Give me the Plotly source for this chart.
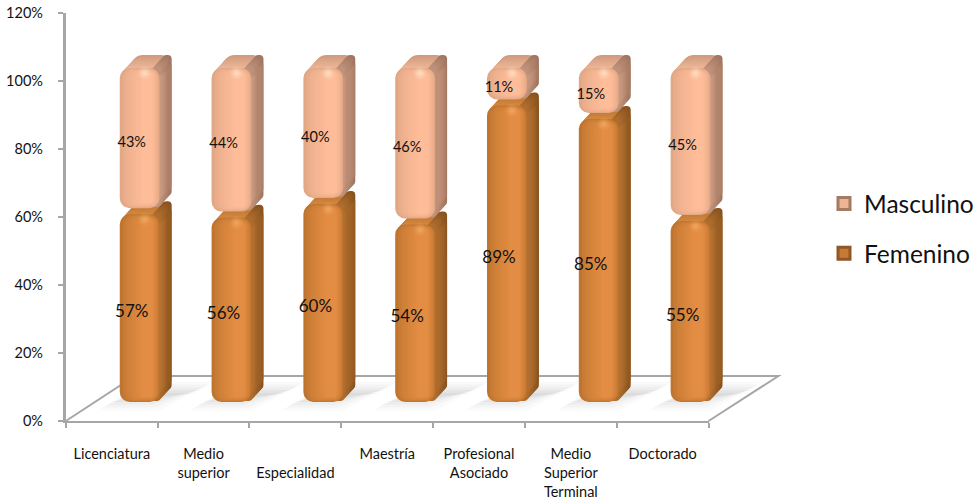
import plotly.graph_objects as go

# ---- data ----
categories = ["Licenciatura", "Medio<br>superior", "<br>Especialidad", "Maestría",
              "Profesional<br>Asociado", "Medio<br>Superior<br>Terminal", "Doctorado"]
femenino = [57, 56, 60, 54, 89, 85, 55]
masculino = [43, 44, 40, 46, 11, 15, 45]
y_ticks = [0, 20, 40, 60, 80, 100, 120]
y_tick_labels = ["0%", "20%", "40%", "60%", "80%", "100%", "120%"]

# ---- styling / geometry ----
W, H = 979, 500
FONT = "Lato"
GREY = "#A6A6A6"
DEPTH_STEPS = 13
DEPTH_X, DEPTH_Y = 12, 13
BAR_W = 40 / 92
INSET = 1.8
FRONT_N = 2 + DEPTH_STEPS
HILITE_N = FRONT_N + 1
LABEL_N = FRONT_N + 2

FEM = dict(side=("#87531F", "#AE6C2D"), top=("#B8702E", "#D2873E"),
           front=("#BF7530", "#E38C43"), spot="#F2AE68")
MAS = dict(side=("#A07660", "#C0917A"), top=("#D09B7D", "#EBB597"),
           front=("#E2A886", "#FEBC99"), spot="#FFE6CC")


def mix(a, b, t):
    ca = [int(a[i:i + 2], 16) for i in (1, 3, 5)]
    cb = [int(b[i:i + 2], 16) for i in (1, 3, 5)]
    return "#" + "".join(f"{round(p + (q - p) * t):02X}" for p, q in zip(ca, cb))


fig = go.Figure()


def ax(n):
    return ("x", "y") if n == 1 else (f"x{n}", f"y{n}")


def bar_layer(values, bases, color, axes, left=0.0, right=0.0, inset_v=0.0, radius=10):
    xa, ya = axes
    width = BAR_W - (left + right) / 92
    off = -BAR_W / 2 + left / 92
    lo = [b + inset_v for b in bases]
    heights = [v - INSET - 2 * inset_v for v in values]
    fig.add_trace(go.Bar(x=categories, y=heights, base=lo, width=width, offset=off,
                         marker=dict(color=color, line=dict(width=0), cornerradius=radius),
                         xaxis=xa, yaxis=ya, showlegend=False, hoverinfo="skip"))


def draw_series(values, bases, pal):
    for k in range(DEPTH_STEPS):
        axes = ax(2 + k)
        t = k / (DEPTH_STEPS - 1)
        bar_layer(values, bases, mix(*pal["top"], t), axes, radius=11)
        bar_layer(values, bases, mix(*pal["side"], t), axes, left=31, radius=9)
    front_axes = ax(FRONT_N)
    nest = 8
    for j in range(nest):
        t = j / (nest - 1)
        bar_layer(values, bases, mix(*pal["front"], t ** 0.7), front_axes,
                  left=22 * t, right=7 * t, inset_v=1.4 * t, radius=max(10 - 7 * t, 2))


zeros = [0] * len(femenino)
draw_series(femenino, zeros, FEM)
draw_series(masculino, femenino, MAS)

# legend entries on the base axes
fig.add_trace(go.Bar(x=categories, y=[None] * 7, name="Femenino", legendgroup="f", legendrank=2,
                     marker=dict(color="#C67A34", line=dict(color="#8F5826", width=3)),
                     hoverinfo="skip"))
fig.add_trace(go.Bar(x=categories, y=[None] * 7, name="Masculino", legendgroup="m", legendrank=1,
                     marker=dict(color="#EDB595", line=dict(color="#A67B63", width=3)),
                     hoverinfo="skip"))

# specular spots
tops_f = list(femenino)
tops_m = [f + m for f, m in zip(femenino, masculino)]
HL = ax(HILITE_N)
for tops, spot in ((tops_f, FEM["spot"]), (tops_m, MAS["spot"])):
    for size, op in ((13, 0.18), (9, 0.25), (5, 0.45)):
        fig.add_trace(go.Scatter(x=categories, y=tops, mode="markers",
                                 marker=dict(size=size, color=spot, opacity=op, line=dict(width=0)),
                                 xaxis=HL[0], yaxis=HL[1], showlegend=False, hoverinfo="skip"))

# data labels
LBL = ax(LABEL_N)
fig.add_trace(go.Scatter(x=categories, y=[v / 2 for v in femenino], mode="text",
                         text=[f"{v}%" for v in femenino],
                         textfont=dict(family=FONT, size=17, color="#111111"),
                         xaxis=LBL[0], yaxis=LBL[1], showlegend=False, hoverinfo="skip"))
fig.add_trace(go.Scatter(x=categories, y=[f + m / 2 for f, m in zip(femenino, masculino)], mode="text",
                         text=[f"{v}%" for v in masculino],
                         textfont=dict(family=FONT, size=14.5, color="#111111"),
                         xaxis=LBL[0], yaxis=LBL[1], showlegend=False, hoverinfo="skip"))


def bar_axes(n, dx, dy):
    """Separate axes whose scale is shifted dx right, dy up (pixels) from the front face."""
    x0, x1 = 94 + dx, 738 + dx
    y0 = 402 - dy
    y1 = y0 - 3.4 * 110
    return {
        f"xaxis{n}": dict(domain=[x0 / W, x1 / W], range=[-0.5, 6.5], type="category",
                          categoryorder="array", categoryarray=categories, visible=False,
                          anchor=f"y{n}"),
        f"yaxis{n}": dict(domain=[1 - y0 / H, 1 - y1 / H], range=[0, 110], visible=False,
                          anchor=f"x{n}"),
    }


layout_axes = {}
for k in range(DEPTH_STEPS):
    t = 1 - k / DEPTH_STEPS
    layout_axes.update(bar_axes(2 + k, DEPTH_X * t, DEPTH_Y * t))
layout_axes.update(bar_axes(FRONT_N, 0, 0))
layout_axes.update(bar_axes(HILITE_N, 5, -11))
layout_axes.update(bar_axes(LABEL_N, -8, -8))

# floor + soft shadows
shapes = []
for i in range(len(categories)):
    cx = 140 + 92 * i
    for grow, op in ((12, 0.03), (8, 0.04), (4, 0.05), (0, 0.06), (-4, 0.07)):
        y_low, y_high = 402 + grow * 0.7, 390 - grow * 0.7
        x_a, x_b = cx - 30 - grow, cx + 8 + grow
        x_c, x_d = min(cx + 62 + grow, 764), cx + 22 - grow
        path = (f"M{x_a/W},{1-y_low/H} L{x_b/W},{1-y_low/H} "
                f"L{x_c/W},{1-y_high/H} L{x_d/W},{1-y_high/H} Z")
        shapes.append(dict(type="path", xref="paper", yref="paper", path=path,
                           fillcolor=f"rgba(110,110,110,{op})", line=dict(width=0), layer="below"))
floor = (f"M{66/W},{1-421/H} L{135/W},{1-376/H} L{780/W},{1-376/H} L{710/W},{1-421/H}")
shapes.append(dict(type="path", xref="paper", yref="paper", path=floor,
                   line=dict(color=GREY, width=2), layer="below"))

fig.update_layout(
    width=W, height=H, autosize=False,
    margin=dict(l=0, r=0, t=0, b=0),
    paper_bgcolor="white", plot_bgcolor="rgba(0,0,0,0)",
    barmode="overlay",
    shapes=shapes,
    font=dict(family=FONT, color="#111111"),
    legend=dict(x=826 / W, y=1 - 181 / H, xanchor="left", yanchor="top",
                traceorder="grouped", tracegroupgap=15,
                font=dict(family=FONT, size=24.5, color="#111111"),
                bgcolor="rgba(0,0,0,0)"),
    xaxis=dict(domain=[66 / W, 710 / W], range=[-0.5, 6.5], type="category",
               categoryorder="array", categoryarray=categories,
               tickson="boundaries", ticks="outside", ticklen=5, tickwidth=2, tickcolor=GREY,
               showline=True, linecolor=GREY, linewidth=2, showgrid=False, automargin=False,
               ticklabelstandoff=19, tickangle=0, tickfont=dict(family=FONT, size=14.5, color="#111111"),
               anchor="y"),
    yaxis=dict(domain=[1 - 421 / H, 1 - 13 / H], range=[0, 120], tickvals=y_ticks,
               ticktext=y_tick_labels, ticks="outside", ticklen=5, tickwidth=2, tickcolor=GREY,
               showline=True, linecolor=GREY, linewidth=3, showgrid=False, zeroline=False,
               automargin=False,
               ticklabelstandoff=12, tickfont=dict(family=FONT, size=14.5, color="#111111"),
               anchor="x"),
    **layout_axes,
)

fig.write_html("out.html", config={"displayModeBar": False},
               post_script="document.body.style.margin='0';document.documentElement.style.overflow='hidden';")
